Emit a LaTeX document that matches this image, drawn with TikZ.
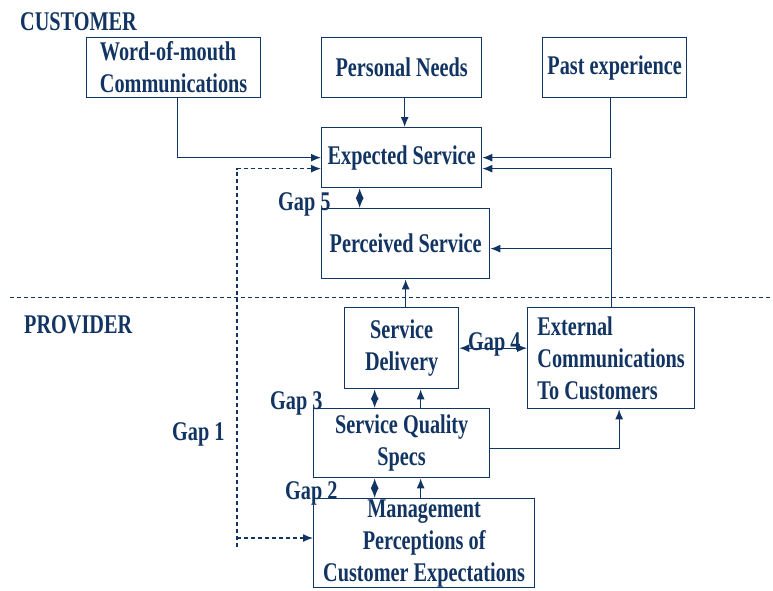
\documentclass[tikz,border=0pt]{standalone}
\usepackage{fontspec}
\setmainfont{Liberation Serif}[FakeStretch=0.75]
\usetikzlibrary{arrows.meta}
\definecolor{navy}{RGB}{18,52,98}

\tikzset{
  box/.style={draw=navy, line width=1.3pt, inner sep=0pt, anchor=north west, text=navy,
    font=\bfseries\fontsize{27}{32}\selectfont, align=center},
  lab/.style={text=navy, inner sep=0pt, anchor=base west, font=\bfseries\fontsize{27}{32}\selectfont},
  arr/.style={draw=navy, line width=1.3pt, -{Latex[length=10pt,width=8pt]}},
  gaparr/.style={draw=navy, line width=1.3pt, {Latex[length=10pt,width=8pt]}-{Latex[length=10pt,width=8pt]}},
  dasharr/.style={arr, dash pattern=on 4pt off 3pt},
}

\begin{document}
\begin{tikzpicture}[x=1pt,y=-1pt]
\useasboundingbox (0,0) rectangle (773,590);

% customer side
 \node[lab] (cust) at (20,30) {CUSTOMER};
 \node[box, minimum width=174pt, minimum height=60pt, align=left] (wom) at (86,37) {Word-of-mouth\\Communications};
 \node[box, minimum width=160pt, minimum height=60pt] (pn) at (321,37) {Personal Needs};
 \node[box, minimum width=144pt, minimum height=60pt] (pe) at (542,37) {Past experience};
 \node[box, minimum width=160pt, minimum height=60pt] (exp) at (321,127) {Expected Service};
 \node[box, minimum width=168pt, minimum height=70pt] (perc) at (321,208) {Perceived Service};

 \draw[navy, line width=0.9pt, dash pattern=on 4pt off 3pt] (10,297)--(773,297);

% provider side
 \node[lab] (prov) at (24,333) {PROVIDER};
 \node[box, minimum width=114pt, minimum height=81pt] (deliv) at (344,307) {Service\\Delivery};
 \node[box, minimum width=167pt, minimum height=101pt, align=left] (ext) at (527,307) {External\\Communications\\To Customers};
 \node[box, minimum width=176pt, minimum height=69pt] (specs) at (313,408) {Service Quality\\Specs};
 \node[box, minimum width=221pt, minimum height=89pt] (mgmt) at (313,498) {Management\\Perceptions of\\Customer Expectations};

% gap labels
 \node[lab] (g5) at (278,210) {Gap 5};
 \node[lab] (g4) at (468,350) {Gap 4};
 \node[lab] (g3) at (270,409) {Gap 3};
 \node[lab] (g2) at (285,499) {Gap 2};
 \node[lab] (g1) at (172,440) {Gap 1};

% arrows
 \draw[arr] ([xshift=4pt]wom.south) |- (exp.west);
 \draw[arr] ([xshift=3pt]pn.south) -- ([xshift=3pt]exp.north);
 \draw[arr] ([xshift=-4pt]pe.south) |- (exp.east);
 \draw[arr] (ext.north) |- ([yshift=-11pt]exp.east);
 \draw[arr] (ext.north) |- ([yshift=-5pt]perc.east);
 \draw[arr] ([xshift=4pt]deliv.north) -- ([xshift=4pt]deliv.north |- perc.south);
 \draw[arr] ([yshift=-5pt]specs.east) -| ([xshift=8pt]ext.south);
 \draw[arr] ([xshift=19pt]specs.north) -- ([xshift=19pt]specs.north |- deliv.south);
 \draw[arr] ([xshift=19pt]mgmt.north -| specs.north) -- ([xshift=19pt]specs.south);

 \draw[gaparr] ([xshift=-42pt]exp.south) -- ([xshift=-42pt]exp.south |- perc.north);
 \draw[gaparr] (deliv.east) -- (deliv.east -| ext.west);
 \draw[gaparr] ([xshift=-27pt]specs.north) -- ([xshift=-27pt]specs.north |- deliv.south);
 \draw[gaparr] ([xshift=-27pt]specs.south) -- ([xshift=-27pt]specs.south |- mgmt.north);

% gap 1
 \coordinate (g1low) at (237,547);
 \coordinate (g1mid) at (237,538);
 \draw[dasharr] (g1low) |- ([yshift=-11pt]exp.west);
 \draw[dasharr] (g1mid) -- (g1mid -| mgmt.west);
\end{tikzpicture}
\end{document}
